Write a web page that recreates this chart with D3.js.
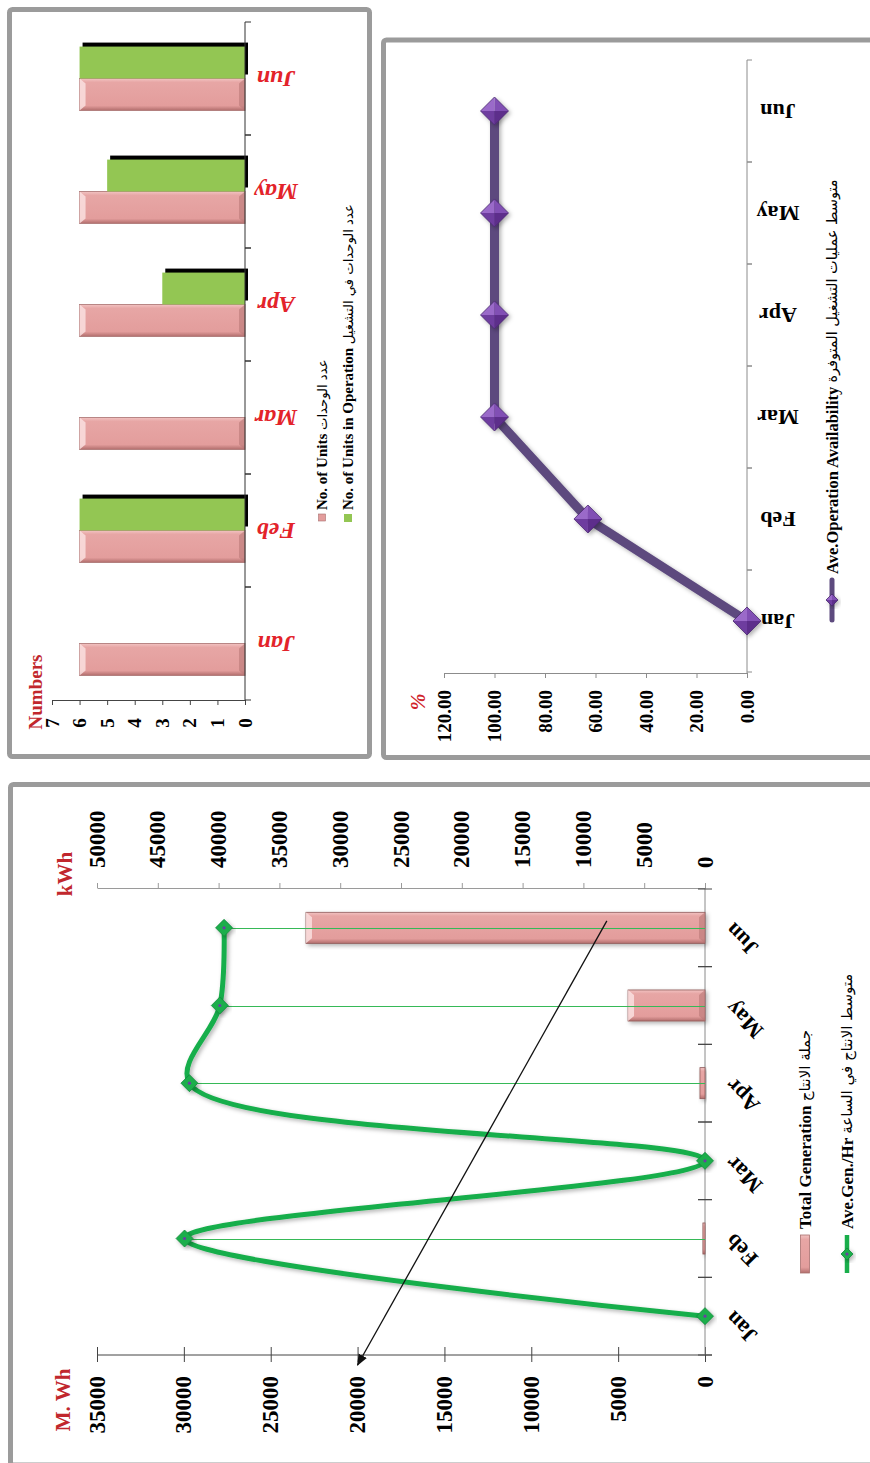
<!DOCTYPE html>
<html><head><meta charset="utf-8">
<script src="https://cdn.jsdelivr.net/npm/d3@7"></script>
<style>body{margin:0;background:#fff}svg{display:block}</style>
</head><body>
<script>
// ---------- data ----------
const months = ["Jan","Feb","Mar","Apr","May","Jun"];
const unitsTotal = [6,6,6,6,6,6];
const unitsInOperation = [0,6,0,3,5,6];
const unitTicks = [0,1,2,3,4,5,6,7];
const availability = [0,63,100,100,100,100];
const availabilityTicks = [0,20,40,60,80,100,120];
const totalGeneration = [0,120,0,290,4430,22970];      // M.Wh
const aveGenPerHour = [0,42800,0,42400,39900,39550];   // kWh
const mwhTicks = [0,5000,10000,15000,20000,25000,30000,35000];
const kwhTicks = [0,5000,10000,15000,20000,25000,30000,35000,40000,45000,50000];
const legendUnits = ["No. of Units", "عدد الوحدات"];
const legendUnitsOper = ["No. of Units in Operation", "عدد الوحدات في التشغيل"];
const legendAvail = ["Ave.Operation Availability", "متوسط عمليات التشغيل المتوفرة"];
const legendTotalGen = ["Total Generation", "جملة الانتاج"];
const legendAveGen = ["Ave.Gen./Hr", "متوسط الانتاج في الساعة"];
const arrowStartMWh = 5650, arrowEndMWh = 20000;

const SERIF = "'Liberation Serif','Times New Roman',serif";
const ARAB = "'DejaVu Sans',sans-serif";

const svg = d3.select("body").append("svg").attr("width",870).attr("height",1463);
const defs = svg.append("defs");

const pinkGrad = defs.append("linearGradient").attr("id","pinkH").attr("x1",0).attr("y1",0).attr("x2",0).attr("y2",1);
[[0,"#f2c3c2"],[0.12,"#e7a6a5"],[0.85,"#e39d9c"],[1,"#b26e6d"]].forEach(([o,c])=>pinkGrad.append("stop").attr("offset",o).attr("stop-color",c));
const shadow = defs.append("filter").attr("id","shd").attr("x","-20%").attr("y","-20%").attr("width","140%").attr("height","140%");
shadow.append("feDropShadow").attr("dx",2).attr("dy",2).attr("stdDeviation",2).attr("flood-color","#000").attr("flood-opacity",0.3);

function rtext(g, x, y, angle, txt, o={}) {
  const t = g.append("text")
    .attr("transform", `translate(${x},${y}) rotate(${angle})`)
    .attr("text-anchor", o.anchor || "middle")
    .attr("dominant-baseline", "central")
    .attr("font-family", o.family || SERIF)
    .attr("font-size", o.size || 16)
    .attr("font-weight", o.weight || "bold")
    .attr("font-style", o.style || "normal")
    .attr("fill", o.fill || "#000");
  if (Array.isArray(txt)) {
    t.append("tspan").text(txt[0] + "  ");
    t.append("tspan").attr("font-family", ARAB).attr("font-weight","normal").attr("font-size",(o.size||16)*0.88).text(txt[1]);
  } else t.text(txt);
  return t;
}
function panel(x, y, w, h) {
  svg.append("rect").attr("x",x).attr("y",y).attr("width",w).attr("height",h)
    .attr("rx",3).attr("fill","#fff").attr("stroke","#9b9b9b").attr("stroke-width",5);
}

// ================= Panel 1 : units =================
panel(9.5, 9.5, 360, 747);
const g1 = svg.append("g");
const x1 = d3.scaleLinear().domain([0,7]).range([245,52]);
const y1 = d3.scaleBand().domain(months).range([700,22]);
const s1 = d3.scaleBand().domain(["oper","units"]).range([0,y1.bandwidth()]).paddingOuter(0.77);

months.forEach((m,i)=>{
  const yb = y1(m);
  const v = unitsTotal[i];
  const yy = yb + s1("units"), hh = s1.bandwidth();
  g1.append("rect").attr("x",x1(v)).attr("y",yy).attr("width",x1(0)-x1(v)).attr("height",hh)
    .attr("fill","url(#pinkH)").attr("stroke","#a8706f").attr("stroke-width",0.8);
  g1.append("polygon").attr("points",`${x1(v)},${yy} ${x1(v)+6},${yy+5} ${x1(v)+6},${yy+hh-5} ${x1(v)},${yy+hh}`)
    .attr("fill","#fbe3e3").attr("opacity",0.8);
  g1.append("polygon").attr("points",`${x1(0)},${yy} ${x1(0)-6},${yy+5} ${x1(0)-6},${yy+hh-5} ${x1(0)},${yy+hh}`)
    .attr("fill","#b97877").attr("opacity",0.6);
  const o = unitsInOperation[i];
  if (o > 0) {
    const yo = yb + s1("oper");
    g1.append("rect").attr("x",x1(o)+3).attr("y",yo-4).attr("width",x1(0)-x1(o)).attr("height",s1.bandwidth()).attr("fill","#000");
    g1.append("rect").attr("x",x1(o)).attr("y",yo).attr("width",x1(0)-x1(o)).attr("height",s1.bandwidth()).attr("fill","#93c653");
  }
  rtext(g1, 276, yb + y1.bandwidth()/2, 180, m, {size:24, style:"italic", fill:"#e3232a"});
});
const ax1 = g1.append("g").attr("transform","translate(0,700)")
  .call(d3.axisBottom(x1).tickValues(unitTicks).tickSize(5).tickFormat("").tickSizeOuter(0));
ax1.select(".domain").attr("stroke","#444");
ax1.selectAll(".tick line").attr("stroke","#444");
unitTicks.forEach(t=>rtext(g1, x1(t), 723, -90, String(t), {size:19}));
g1.append("line").attr("x1",245).attr("x2",245).attr("y1",22).attr("y2",700).attr("stroke","#333");
months.forEach(m=>{
  [y1(m), y1(m)+y1.bandwidth()].forEach(yy=>g1.append("line").attr("x1",245).attr("x2",251).attr("y1",yy).attr("y2",yy).attr("stroke","#333"));
});
rtext(g1, 35, 692, -90, "Numbers", {size:19, fill:"#c1272d"});
g1.append("rect").attr("x",318.5).attr("y",514).attr("width",7).attr("height",7).attr("fill","#e39d9c").attr("stroke","#a8706f").attr("stroke-width",0.6);
rtext(g1, 322, 510, -90, legendUnits, {anchor:"start", size:15});
g1.append("rect").attr("x",344).attr("y",514).attr("width",8).attr("height",8).attr("fill","#93c653");
rtext(g1, 348, 510, -90, legendUnitsOper, {anchor:"start", size:15});

// ================= Panel 2 : availability =================
panel(383.5, 40, 500, 717.5);
const g2 = svg.append("g");
const x2 = d3.scaleLinear().domain([0,120]).range([747,444]);
const y2 = d3.scaleBand().domain(months).range([672,60]);
const ax2 = g2.append("g").attr("transform","translate(0,673)")
  .call(d3.axisBottom(x2).tickValues(availabilityTicks).tickSize(5).tickFormat("").tickSizeOuter(0));
ax2.select(".domain").attr("stroke","#8c8c8c");
ax2.selectAll(".tick line").attr("stroke","#8c8c8c");
availabilityTicks.forEach(t=>rtext(g2, x2(t), 690, -90, d3.format(".2f")(t), {anchor:"end", size:19}));
g2.append("line").attr("x1",747).attr("x2",747).attr("y1",60).attr("y2",673).attr("stroke","#8c8c8c");
months.forEach(m=>{
  [y2(m), y2(m)+y2.bandwidth()].forEach(yy=>g2.append("line").attr("x1",747).attr("x2",752).attr("y1",yy).attr("y2",yy).attr("stroke","#8c8c8c"));
  rtext(g2, 778, y2(m)+y2.bandwidth()/2, 180, m, {size:22});
});
rtext(g2, 418, 702, -90, "%", {size:20, fill:"#d0222a", style:"italic"});
const availPts = months.map((m,i)=>[x2(availability[i]), y2(m)+y2.bandwidth()/2]);
g2.append("path").attr("d", d3.line()(availPts)).attr("fill","none").attr("stroke","#5d4a7e")
  .attr("stroke-width",9).attr("stroke-linejoin","round").attr("filter","url(#shd)");
function purpleDiamond(g, cx, cy, r) {
  const gg = g.append("g").attr("filter","url(#shd)");
  const faces = [[[cx,cy-r],[cx-r,cy],[cx,cy],"#9a6ac9"],[[cx,cy-r],[cx+r,cy],[cx,cy],"#8150b4"],
                 [[cx+r,cy],[cx,cy+r],[cx,cy],"#5d2d8b"],[[cx-r,cy],[cx,cy+r],[cx,cy],"#6e3c9f"]];
  faces.forEach(f=>gg.append("polygon").attr("points",f.slice(0,3).map(p=>p.join(",")).join(" ")).attr("fill",f[3]));
  gg.append("polygon").attr("points",`${cx},${cy-r} ${cx+r},${cy} ${cx},${cy+r} ${cx-r},${cy}`)
    .attr("fill","none").attr("stroke","#4a2870").attr("stroke-width",0.8);
}
availPts.forEach(p=>purpleDiamond(g2, p[0], p[1], 14));
g2.append("line").attr("x1",832).attr("x2",832).attr("y1",580).attr("y2",620).attr("stroke","#5d4a7e").attr("stroke-width",5).attr("stroke-linecap","round");
purpleDiamond(g2, 832, 600, 6);
rtext(g2, 832, 574, -90, legendAvail, {anchor:"start", size:16.5});

// ================= Panel 3 : generation =================
panel(10.5, 784.5, 880, 680.5);
const g3 = svg.append("g");
const xM = d3.scaleLinear().domain([0,35000]).range([705,97]);
const xK = d3.scaleLinear().domain([0,50000]).range([705,97]);
const y3 = d3.scaleBand().domain(months).range([1355,889]);
const bw3 = y3.bandwidth();
const cy3 = m => y3(m) + bw3/2;

const axK = g3.append("g").attr("transform","translate(0,888)")
  .call(d3.axisTop(xK).tickValues(kwhTicks).tickSize(5).tickFormat("").tickSizeOuter(0));
axK.select(".domain").attr("stroke","#9a9a9a");
axK.selectAll(".tick line").attr("stroke","#9a9a9a");
kwhTicks.forEach(t=>rtext(g3, xK(t), 868, -90, String(t), {anchor:"start", size:23}));
rtext(g3, 65, 874, -90, "kWh", {size:21, fill:"#c1272d"});
const axM = g3.append("g").attr("transform","translate(0,1355)")
  .call(d3.axisBottom(xM).tickValues(mwhTicks).tickSizeInner(7).tickSizeOuter(0).tickFormat(""));
axM.select(".domain").attr("stroke","#444").attr("d","M97,0H712");
axM.selectAll(".tick line").attr("stroke","#444").attr("y1",-8).attr("y2",7);
mwhTicks.forEach(t=>rtext(g3, xM(t), 1376, -90, String(t), {anchor:"end", size:23}));
rtext(g3, 63, 1400, -90, "M. Wh", {size:21, fill:"#c1272d"});
g3.append("line").attr("x1",705).attr("x2",705).attr("y1",888).attr("y2",1355).attr("stroke","#8a8a8a");
months.forEach(m=>{
  [y3(m), y3(m)+bw3].forEach(yy=>g3.append("line").attr("x1",698).attr("x2",712).attr("y1",yy).attr("y2",yy).attr("stroke","#444"));
  rtext(g3, 729, cy3(m)-1, -135, m, {anchor:"end", size:22});
});
months.forEach((m,i)=>{
  const v = totalGeneration[i];
  if (v <= 0) return;
  const yy = cy3(m) - bw3*0.2, hh = bw3*0.4, w = xM(0)-xM(v);
  g3.append("rect").attr("x",xM(v)).attr("y",yy).attr("width",w).attr("height",hh)
    .attr("fill","url(#pinkH)").attr("stroke","#8e5a59").attr("stroke-width",0.8).attr("filter","url(#shd)");
  if (w > 12) {
    g3.append("polygon").attr("points",`${xM(v)},${yy} ${xM(v)+6},${yy+5} ${xM(v)+6},${yy+hh-5} ${xM(v)},${yy+hh}`).attr("fill","#fbe3e3").attr("opacity",0.8);
    g3.append("polygon").attr("points",`${xM(0)},${yy} ${xM(0)-6},${yy+5} ${xM(0)-6},${yy+hh-5} ${xM(0)},${yy+hh}`).attr("fill","#b97877").attr("opacity",0.6);
  }
});
// drop lines from each marker to the category axis
months.forEach((m,i)=>{
  const yy = Math.round(cy3(m)) + 0.5;
  g3.append("line").attr("x1",xK(aveGenPerHour[i])).attr("x2",705).attr("y1",yy).attr("y2",yy)
    .attr("stroke","#36b957").attr("stroke-width",1);
});
const genPts = months.map((m,i)=>[xK(aveGenPerHour[i]), cy3(m)]);
g3.append("path").attr("d", d3.line().curve(d3.curveCatmullRom.alpha(0.5))(genPts))
  .attr("fill","none").attr("stroke","#19ae4b").attr("stroke-width",5).attr("filter","url(#shd)");
function greenDiamond(g, cx, cy, r) {
  g.append("polygon").attr("points",`${cx},${cy-r} ${cx+r},${cy} ${cx},${cy+r} ${cx-r},${cy}`)
    .attr("fill","#1aae4b").attr("stroke","#138a3b").attr("stroke-width",0.8).attr("filter","url(#shd)");
  g.append("circle").attr("cx",cx).attr("cy",cy).attr("r",1.6).attr("fill","#6b3fa3");
}
genPts.forEach(p=>greenDiamond(g3, p[0], p[1], 8.5));
defs.append("marker").attr("id","arr").attr("viewBox","0 0 10 10").attr("refX",9).attr("refY",5)
  .attr("markerWidth",9).attr("markerHeight",9).attr("orient","auto-start-reverse")
  .append("path").attr("d","M0,1 L10,5 L0,9 Z").attr("fill","#111");
g3.append("line").attr("x1",xM(arrowStartMWh)).attr("y1",cy3("Jun")-7).attr("x2",xM(arrowEndMWh)).attr("y2",1365)
  .attr("stroke","#111").attr("stroke-width",1.3).attr("marker-end","url(#arr)");
g3.append("rect").attr("x",800.5).attr("y",1235).attr("width",9).attr("height",38).attr("fill","url(#pinkH)").attr("stroke","#a8706f").attr("stroke-width",0.8);
rtext(g3, 805, 1229, -90, legendTotalGen, {anchor:"start", size:17});
g3.append("line").attr("x1",847).attr("x2",847).attr("y1",1235).attr("y2",1273).attr("stroke","#19ae4b").attr("stroke-width",4.5);
greenDiamond(g3, 847, 1254, 6);
rtext(g3, 847, 1229, -90, legendAveGen, {anchor:"start", size:17});
</script>
</body></html>
